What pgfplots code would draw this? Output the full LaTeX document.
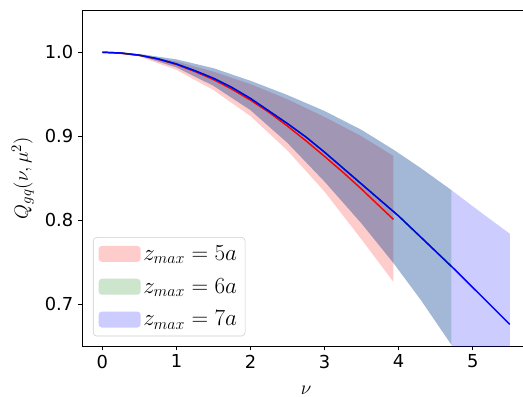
\documentclass[border=0pt]{standalone}
\usepackage[no-math]{fontspec}
\setmainfont{DejaVu Sans}
\usepackage{pgfplots}
\pgfplotsset{compat=1.18}
\definecolor{mgreen}{rgb}{0,0.5,0}
\begin{document}
\begin{tikzpicture}
\begin{axis}[
  scale only axis,
  width=336.1pt, height=252pt,
  xmin=-0.275, xmax=5.775,
  ymin=0.65, ymax=1.05,
  xtick={0,1,2,3,4,5},
  ytick={0.7,0.8,0.9,1.0},
  tick align=outside,
  tick pos=left,
  major tick length=3pt,
  axis line style={line width=0.6pt},
  every tick/.style={black, line width=0.6pt},
  /pgf/number format/assume math mode=true,
  ticklabel style={font=\fontsize{13.4}{16}\selectfont},
  yticklabel style={/pgf/number format/fixed,/pgf/number format/fixed zerofill,/pgf/number format/precision=1},
  xlabel={$\nu$},
  ylabel={$Q_{gq}(\nu,\mu^2)$},
  every axis x label/.style={at={(axis description cs:0.5,0)}, anchor=center, yshift=-33.3pt, font=\fontsize{15.5}{18}\selectfont},
  every axis y label/.style={at={(axis description cs:0,0.5)}, rotate=90, anchor=center, yshift=44.5pt, font=\fontsize{15.5}{18}\selectfont},
  legend image code/.code={\fill[#1] (0pt,-6pt) rectangle (31.5pt,6pt);},
  legend cell align=left,
  legend style={at={(0,0)}, anchor=south west, xshift=8.25pt, yshift=7.5pt,
    draw=black!20, rounded corners=2.5pt, fill=white, fill opacity=0.8, text opacity=1,
    font=\fontsize{16.5}{19}\selectfont, row sep=8pt, inner xsep=4pt, inner ysep=4pt,
    /tikz/every even column/.append style={column sep=25pt}},
]
\addplot[fill=red, fill opacity=0.2, draw=none]
 coordinates {(0,1)(0.5,0.9975)(1,0.989)(1.5,0.977)(2,0.962)(2.5,0.944)(3,0.923)(3.5,0.900)(3.93,0.8765)
 (3.93,0.7265)(3.5,0.777)(3,0.834)(2.5,0.883)(2,0.924)(1.5,0.955)(1,0.979)(0.5,0.995)(0,1)} --cycle;
\addlegendentry{$z_{max}=5a$}
\addplot[fill=mgreen, fill opacity=0.2, draw=none]
 coordinates {(0,1.0)(0.5,0.998)(1.0,0.9915)(1.5,0.981)(2.0,0.966)(2.5,0.949)(3.0,0.930)(3.5,0.9075)(3.93,0.884)(4.3,0.862)(4.71,0.836)
 (4.71,0.652)(4.3,0.705)(3.93,0.749)(3.5,0.796)(3.0,0.846)(2.5,0.892)(2.0,0.931)(1.5,0.960)(1.0,0.982)(0.5,0.996)(0,1.0)} --cycle;
\addlegendentry{$z_{max}=6a$}
\addplot[fill=blue, fill opacity=0.2, draw=none]
 coordinates {(0,1.0)(0.5,0.998)(1.0,0.9915)(1.5,0.981)(2.0,0.966)(2.5,0.949)(3.0,0.930)(3.5,0.9075)(3.93,0.884)(4.3,0.862)(4.71,0.836)(5.1,0.810)(5.5,0.784)
 (5.5,0.545)(5.1,0.600)(4.71,0.652)(4.3,0.705)(3.93,0.749)(3.5,0.796)(3.0,0.846)(2.5,0.892)(2.0,0.931)(1.5,0.960)(1.0,0.982)(0.5,0.996)(0,1.0)} --cycle;
\addlegendentry{$z_{max}=7a$}
\addplot[red, line width=1.1pt, forget plot] coordinates {
 (0,1)(0.25,0.999)(0.5,0.9963)(0.75,0.9918)(1.0,0.9855)(1.25,0.977)(1.5,0.9675)(1.75,0.956)(2.0,0.943)(2.25,0.9285)(2.5,0.912)(2.75,0.8945)(3.0,0.876)(3.25,0.857)(3.5,0.837)(3.75,0.816)(3.93,0.801)};
\addplot[mgreen, line width=1.1pt, forget plot] coordinates {
 (0,1)(0.25,0.9991)(0.5,0.9965)(0.75,0.9922)(1.0,0.986)(1.25,0.978)(1.5,0.969)(1.75,0.958)(2.0,0.945)(2.25,0.930)(2.5,0.915)(2.75,0.899)(3.0,0.881)(3.25,0.862)(3.5,0.843)(3.75,0.824)(4.0,0.805)(4.25,0.784)(4.5,0.763)(4.71,0.745)};
\addplot[blue, line width=1.1pt, forget plot] coordinates {
 (0,1)(0.25,0.9991)(0.5,0.9965)(0.75,0.9922)(1.0,0.986)(1.25,0.978)(1.5,0.969)(1.75,0.958)(2.0,0.945)(2.25,0.930)(2.5,0.915)(2.75,0.899)(3.0,0.881)(3.25,0.862)(3.5,0.843)(3.75,0.824)(4.0,0.805)(4.25,0.784)(4.5,0.763)(4.75,0.742)(5.0,0.720)(5.25,0.698)(5.5,0.676)};
\end{axis}
\pgfresetboundingbox
\useasboundingbox ([shift={(-61.5pt,-38pt)}]current axis.south west) rectangle ([shift={(330.75pt,7.7pt)}]current axis.north west);
\end{tikzpicture}
\end{document}
